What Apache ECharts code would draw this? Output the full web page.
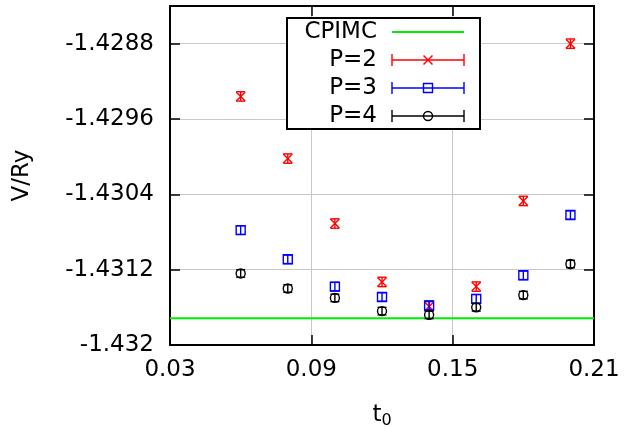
<!DOCTYPE html>
<html><head><meta charset="utf-8">
<script src="https://cdn.jsdelivr.net/npm/echarts@6/dist/echarts.min.js"></script>
<style>html,body{margin:0;padding:0;background:#fff}#c{width:625px;height:427px}</style>
</head><body><div id="c"></div>
<script>
// ---- data ----
const t0 = [0.06, 0.08, 0.10, 0.12, 0.14, 0.16, 0.18, 0.20];
const p2 = [-1.42936, -1.43002, -1.43071, -1.43133, -1.43159, -1.43138, -1.43047, -1.42880];
const p2Err = [0.00005, 0.00005, 0.00005, 0.00005, 0.00005, 0.00005, 0.00005, 0.00005];
const p3 = [-1.43078, -1.43109, -1.43138, -1.43149, -1.43158, -1.43151, -1.43126, -1.43062];
const p3Err = [0.000045, 0.000045, 0.000045, 0.000045, 0.000045, 0.000045, 0.000045, 0.000045];
const p4 = [-1.43124, -1.43140, -1.43150, -1.43164, -1.43168, -1.43160, -1.43147, -1.43114];
const p4Err = [0.00004, 0.00004, 0.00004, 0.00004, 0.00004, 0.00004, 0.00004, 0.00004];
const cpimc = -1.431715;
const xTicks = [0.03, 0.09, 0.15, 0.21];
const yTicks = [-1.432, -1.4312, -1.4304, -1.4296, -1.4288];
const legendNames = ['CPIMC', 'P=2', 'P=3', 'P=4'];

const FONT = 'DejaVu Sans';
const FS = 23;
const LW = 1.4;
const COLORS = { cpimc: '#00ee00', p2: '#ff0000', p3: '#0000ff', p4: '#000000' };

function markerShape(kind, x, y, color, h) {
  const st = { stroke: color, lineWidth: LW, fill: null };
  if (kind === 'x') {
    return { type: 'group', children: [
      { type: 'line', shape: { x1: x - h, y1: y - h, x2: x + h, y2: y + h }, style: st },
      { type: 'line', shape: { x1: x - h, y1: y + h, x2: x + h, y2: y - h }, style: st }
    ]};
  } else if (kind === 'square') {
    return { type: 'rect', shape: { x: x - h, y: y - h, width: 2 * h, height: 2 * h }, style: st };
  }
  return { type: 'circle', shape: { cx: x, cy: y, r: h }, style: st };
}

function errSeries(name, vals, errs, color, marker) {
  return {
    type: 'custom', name: name,
    data: t0.map((x, i) => [x, vals[i], errs[i]]),
    z: 5,
    renderItem: function (params, api) {
      const x = api.value(0), y = api.value(1), e = api.value(2);
      const c = api.coord([x, y]);
      const lo = api.coord([x, y - e]);
      const hi = api.coord([x, y + e]);
      const cw = 4.5;
      const st = { stroke: color, lineWidth: LW, fill: null };
      return { type: 'group', children: [
        { type: 'line', shape: { x1: c[0], y1: lo[1], x2: c[0], y2: hi[1] }, style: st },
        { type: 'line', shape: { x1: c[0] - cw, y1: lo[1], x2: c[0] + cw, y2: lo[1] }, style: st },
        { type: 'line', shape: { x1: c[0] - cw, y1: hi[1], x2: c[0] + cw, y2: hi[1] }, style: st },
        markerShape(marker, c[0], c[1], color, 4.5)
      ]};
    }
  };
}

// legend (gnuplot-style key) drawn as graphic elements
const LX0 = 392, LX1 = 464, LXM = 428, LTX = 377;
const rowsY = [32, 60, 88, 116];
const legendGraphic = [
  { type: 'rect', shape: { x: 287, y: 18, width: 193, height: 111 },
    style: { fill: '#fff', stroke: '#000', lineWidth: 2 }, z: 100 }
];
const legendKinds = [null, 'x', 'square', 'circle'];
const legendColors = [COLORS.cpimc, COLORS.p2, COLORS.p3, COLORS.p4];
legendNames.forEach((nm, i) => {
  const y = rowsY[i], col = legendColors[i];
  legendGraphic.push({ type: 'text', z: 101, style: { text: nm, x: LTX, y: y, align: 'right', verticalAlign: 'middle',
    font: FS + 'px "' + FONT + '"', fill: '#000' } });
  const st = { stroke: col, lineWidth: i === 0 ? 2 : LW, fill: null };
  legendGraphic.push({ type: 'line', z: 101, shape: { x1: LX0, y1: y, x2: LX1, y2: y }, style: st });
  if (i > 0) {
    legendGraphic.push({ type: 'line', z: 101, shape: { x1: LX0, y1: y - 6, x2: LX0, y2: y + 6 }, style: st });
    legendGraphic.push({ type: 'line', z: 101, shape: { x1: LX1, y1: y - 6, x2: LX1, y2: y + 6 }, style: st });
    const m = markerShape(legendKinds[i], LXM, y, col, 4.5);
    m.z = 101;
    if (m.children) m.children.forEach(ch => ch.z = 101);
    legendGraphic.push(m);
  }
});

const axisLine = { show: true, onZero: false, lineStyle: { color: '#000', width: 2 } };
const tickStyle = { show: true, inside: true, length: 10, lineStyle: { color: '#000', width: 1.5 } };
const labelStyle = { color: '#000', fontFamily: FONT, fontSize: FS };

const chart = echarts.init(document.getElementById('c'), null, { renderer: 'canvas' });
chart.setOption({
  animation: false,
  backgroundColor: '#fff',
  grid: { left: 170, right: 31, top: 6, bottom: 82, containLabel: false, outerBoundsMode: 'none' },
  xAxis: [
    { type: 'value', min: 0.03, max: 0.21, position: 'bottom',
      axisLine: axisLine,
      axisTick: Object.assign({ customValues: xTicks }, tickStyle),
      axisLabel: Object.assign({ customValues: xTicks, margin: 14, formatter: v => (+v.toFixed(2)).toFixed(2) }, labelStyle),
      splitLine: { show: true, lineStyle: { color: '#c8c8c8', width: 1 } },
      name: 't{sub|0}', nameLocation: 'middle', nameGap: 56,
      nameTextStyle: { color: '#000', fontFamily: FONT, fontSize: FS,
        rich: { sub: { fontFamily: FONT, fontSize: 16, verticalAlign: 'bottom', padding: [12, 0, 0, 0] } } }
    },
    { type: 'value', min: 0.03, max: 0.21, position: 'top',
      axisLine: axisLine,
      axisTick: Object.assign({ customValues: xTicks }, tickStyle),
      axisLabel: { show: false }, splitLine: { show: false } }
  ],
  yAxis: [
    { type: 'value', min: -1.432, max: -1.4284, position: 'left',
      axisLine: axisLine,
      axisTick: Object.assign({ customValues: yTicks }, tickStyle),
      axisLabel: Object.assign({ customValues: yTicks, margin: 16, formatter: v => String(+v.toFixed(4)) }, labelStyle),
      splitLine: { show: true, lineStyle: { color: '#c8c8c8', width: 1 } },
      name: 'V/Ry', nameLocation: 'middle', nameGap: 136, nameRotate: 90,
      nameTextStyle: { color: '#000', fontFamily: FONT, fontSize: FS }
    },
    { type: 'value', min: -1.432, max: -1.4284, position: 'right',
      axisLine: axisLine,
      axisTick: Object.assign({ customValues: yTicks }, tickStyle),
      axisLabel: { show: false }, splitLine: { show: false } }
  ],
  series: [
    { type: 'line', name: 'CPIMC', z: 4, symbol: 'none', silent: true,
      lineStyle: { color: COLORS.cpimc, width: 2 },
      data: [[xTicks[0], cpimc], [xTicks[xTicks.length - 1], cpimc]] },
    errSeries('P=2', p2, p2Err, COLORS.p2, 'x'),
    errSeries('P=3', p3, p3Err, COLORS.p3, 'square'),
    errSeries('P=4', p4, p4Err, COLORS.p4, 'circle')
  ],
  graphic: legendGraphic
});
</script></body></html>
